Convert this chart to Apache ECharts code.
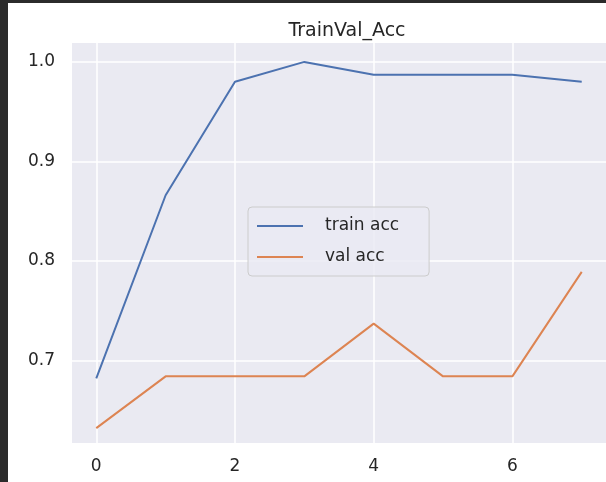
<!DOCTYPE html>
<html>
<head>
<meta charset="utf-8">
<script src="https://cdn.jsdelivr.net/npm/echarts@6/dist/echarts.min.js"></script>
<style>
  html, body { margin: 0; padding: 0; background: #fff; }
  #chart { width: 606px; height: 482px; }
</style>
</head>
<body>
<div id="chart"></div>
<script>
// epochs 0..7
const epochs = [0, 1, 2, 3, 4, 5, 6, 7];
const trainAcc = [0.682, 0.866, 0.980, 1.000, 0.987, 0.987, 0.987, 0.980];
const valAcc = [0.632, 0.684, 0.684, 0.684, 0.737, 0.684, 0.684, 0.789];
const xTicks = [0, 2, 4, 6];
const yTicks = [0.7, 0.8, 0.9, 1.0];

const font = "DejaVu Sans";
const textColor = "#262626";

const chart = echarts.init(document.getElementById("chart"));
const option = {
  backgroundColor: "#ffffff",
  animation: false,
  title: {
    text: "TrainVal_Acc",
    left: 342,
    textAlign: "center",
    top: 17,
    textStyle: { fontFamily: font, fontSize: 19, fontWeight: "normal", color: textColor }
  },
  grid: {
    left: 72,
    top: 43,
    width: 540,
    height: 400,
    show: true,
    backgroundColor: "#EAEAF2",
    borderWidth: 0
  },
  legend: {
    orient: "vertical",
    left: 248,
    top: 207,
    padding: [9, 30, 9, 9],
    itemGap: 11,
    itemWidth: 46,
    itemHeight: 2,
    icon: "rect",
    backgroundColor: "rgba(234,234,242,0.8)",
    borderColor: "#cccccc",
    borderWidth: 1,
    borderRadius: 4,
    textStyle: { fontFamily: font, fontSize: 17, color: textColor, lineHeight: 20, padding: [0, 0, 0, 17] },
    data: ["train acc", "val acc"]
  },
  xAxis: {
    type: "value",
    min: -0.35,
    max: 7.35,
    axisLine: { show: false },
    axisTick: { show: false, customValues: xTicks },
    axisLabel: {
      customValues: xTicks,
      margin: 15,
      fontFamily: font,
      fontSize: 17,
      color: textColor,
      formatter: (v) => String(Math.round(v))
    },
    splitLine: { show: true, lineStyle: { color: "#ffffff", width: 1.5 } }
  },
  yAxis: {
    type: "value",
    min: 0.617,
    max: 1.019,
    axisLine: { show: false },
    axisTick: { show: false, customValues: yTicks },
    axisLabel: {
      customValues: yTicks,
      margin: 17,
      fontFamily: font,
      fontSize: 17,
      color: textColor,
      formatter: (v) => v.toFixed(1)
    },
    splitLine: { show: true, lineStyle: { color: "#ffffff", width: 1.5 } }
  },
  series: [
    {
      name: "train acc",
      type: "line",
      symbol: "none",
      data: epochs.map((e, i) => [e, trainAcc[i]]),
      lineStyle: { color: "#4C72B0", width: 2 },
      itemStyle: { color: "#4C72B0" }
    },
    {
      name: "val acc",
      type: "line",
      symbol: "none",
      data: epochs.map((e, i) => [e, valAcc[i]]),
      lineStyle: { color: "#DD8452", width: 2 },
      itemStyle: { color: "#DD8452" }
    }
  ],
  graphic: [
    // dark frame edges from the screenshot crop
    { type: "rect", left: 0, top: 0, shape: { width: 8, height: 482 }, style: { fill: "#2b2b2b" } },
    { type: "rect", left: 0, top: 0, shape: { width: 606, height: 3 }, style: { fill: "#2b2b2b" } }
  ]
};
chart.setOption(option);
</script>
</body>
</html>
